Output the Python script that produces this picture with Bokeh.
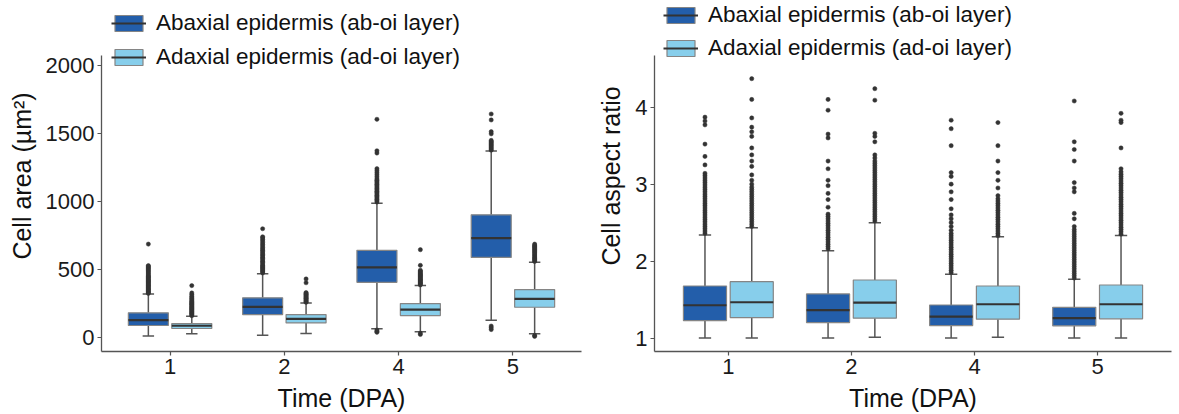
from bokeh.plotting import figure
from bokeh.layouts import row
from bokeh.models import (ColumnDataSource, FactorRange, Range1d, FixedTicker,
                          Legend, LegendItem)
from bokeh.transform import dodge
from bokeh.embed import file_html
from bokeh.resources import INLINE

# ---------------- data ----------------
days = ["1", "2", "4", "5"]
series_labels = ["Abaxial epidermis (ab-oi layer)", "Adaxial epidermis (ad-oi layer)"]

# Cell area (µm²)
area_ab_lo = [10, 17, 64, 127]
area_ab_q1 = [88, 168, 405, 588]
area_ab_med = [127, 225, 515, 730]
area_ab_q3 = [181, 291, 640, 901]
area_ab_hi = [320, 469, 987, 1370]

area_ad_lo = [27, 29, 42, 27]
area_ad_q1 = [66, 107, 161, 222]
area_ad_med = [86, 137, 205, 283]
area_ad_q3 = [102, 168, 249, 352]
area_ad_hi = [156, 254, 381, 552]

area_ab_out = {
    "1": [324, 330, 336, 342, 348, 354, 360, 366, 372, 378, 384, 390, 396, 402, 408, 414,
          420, 426, 432, 438, 444, 450, 458, 466, 474, 482, 490, 498, 506, 514, 522, 528, 686],
    "2": [474, 482, 490, 498, 506, 514, 522, 530, 540, 550, 560, 570, 580, 590, 600, 610,
          620, 630, 640, 650, 660, 672, 684, 696, 708, 720, 732, 740, 799],
    "4": [38, 46, 55, 995, 1005, 1015, 1025, 1035, 1045, 1055, 1065, 1075, 1085, 1095, 1105,
          1115, 1125, 1135, 1145, 1155, 1165, 1180, 1195, 1210, 1225, 1240, 1355, 1372, 1603],
    "5": [58, 72, 84, 1376, 1384, 1392, 1400, 1408, 1416, 1424, 1432, 1440, 1448, 1496,
          1512, 1598, 1642],
}
area_ad_out = {
    "1": [160, 166, 172, 178, 184, 190, 196, 202, 208, 214, 220, 226, 232, 238, 244, 250,
          256, 262, 268, 276, 284, 292, 303, 315, 327, 381],
    "2": [258, 264, 270, 276, 282, 288, 294, 300, 306, 312, 318, 324, 330, 402, 430],
    "4": [22, 32, 386, 392, 398, 404, 410, 416, 422, 428, 434, 440, 446, 452, 458, 464, 470,
          478, 486, 494, 530, 645],
    "5": [8, 16, 558, 566, 574, 582, 590, 598, 606, 614, 622, 630, 638, 646, 654, 662, 670,
          678, 686],
}

# Cell aspect ratio
ar_ab_lo = [1.0, 1.0, 1.0, 1.0]
ar_ab_q1 = [1.228, 1.202, 1.163, 1.16]
ar_ab_med = [1.427, 1.363, 1.28, 1.26]
ar_ab_q3 = [1.677, 1.574, 1.43, 1.40]
ar_ab_hi = [2.338, 2.135, 1.829, 1.764]

ar_ad_lo = [1.0, 1.01, 1.01, 1.0]
ar_ad_q1 = [1.267, 1.259, 1.246, 1.25]
ar_ad_med = [1.466, 1.461, 1.44, 1.44]
ar_ad_q3 = [1.733, 1.755, 1.677, 1.69]
ar_ad_hi = [2.433, 2.497, 2.316, 2.334]

ar_ab_out = {
    "1": [2.36, 2.39, 2.42, 2.45, 2.48, 2.51, 2.54, 2.57, 2.60, 2.63, 2.66, 2.69, 2.72, 2.75,
          2.78, 2.81, 2.84, 2.87, 2.90, 2.93, 2.96, 2.99, 3.02, 3.05, 3.08, 3.11, 3.14, 3.25,
          3.36, 3.52, 3.77, 3.82, 3.87],
    "2": [2.16, 2.19, 2.22, 2.25, 2.28, 2.31, 2.34, 2.37, 2.40, 2.43, 2.46, 2.49, 2.52, 2.55,
          2.58, 2.61, 2.70, 2.80, 2.88, 2.98, 3.05, 3.20, 3.30, 3.60, 3.65, 3.96, 4.10],
    "4": [1.85, 1.88, 1.91, 1.94, 1.97, 2.00, 2.03, 2.06, 2.09, 2.12, 2.15, 2.18, 2.21, 2.24,
          2.27, 2.30, 2.33, 2.36, 2.40, 2.45, 2.50, 2.55, 2.60, 2.68, 2.80, 2.90, 3.00, 3.10,
          3.15, 3.50, 3.72, 3.83],
    "5": [1.78, 1.81, 1.84, 1.87, 1.90, 1.93, 1.96, 1.99, 2.02, 2.05, 2.08, 2.11, 2.14, 2.17,
          2.20, 2.23, 2.26, 2.29, 2.32, 2.35, 2.38, 2.41, 2.45, 2.55, 2.62, 2.90, 2.95, 3.02,
          3.30, 3.45, 3.55, 4.08],
}
ar_ad_out = {
    "1": [2.45, 2.48, 2.51, 2.54, 2.57, 2.60, 2.63, 2.66, 2.69, 2.72, 2.75, 2.78, 2.81, 2.84,
          2.87, 2.90, 2.93, 2.96, 3.00, 3.05, 3.12, 3.23, 3.30, 3.38, 3.47, 3.62, 3.68, 3.74,
          3.86, 4.10, 4.37],
    "2": [2.52, 2.55, 2.58, 2.61, 2.64, 2.67, 2.70, 2.73, 2.76, 2.79, 2.82, 2.85, 2.88, 2.91,
          2.94, 2.97, 3.00, 3.03, 3.06, 3.09, 3.12, 3.15, 3.18, 3.21, 3.24, 3.27, 3.30, 3.34,
          3.38, 3.55, 3.62, 3.66, 4.09, 4.24],
    "4": [2.33, 2.36, 2.39, 2.42, 2.45, 2.48, 2.51, 2.54, 2.57, 2.60, 2.63, 2.66, 2.69, 2.72,
          2.75, 2.78, 2.81, 2.85, 2.95, 3.05, 3.15, 3.30, 3.50, 3.80],
    "5": [2.35, 2.38, 2.41, 2.44, 2.47, 2.50, 2.53, 2.56, 2.59, 2.62, 2.65, 2.68, 2.71, 2.74,
          2.77, 2.80, 2.83, 2.86, 2.89, 2.92, 2.95, 2.98, 3.01, 3.04, 3.07, 3.10, 3.13, 3.16,
          3.20, 3.47, 3.80, 3.83, 3.92],
}

# ---------------- style ----------------
FONT = "Liberation Sans"
DARK = "#235EAA"
LIGHT = "#87CEEB"
BOX_LINE = "#858585"
MED = "#333333"
WHISK = "#555555"
PT = "#333333"
BOX_W = 0.35
OFF = 0.19
CAP = 0.05
HEIGHT = 414
BORDER_BOTTOM = 62


def panel(width, border_left, border_right, y_lo, y_hi_axis, px_per_unit, y_ticks, ylabel,
          ab, ad, ab_out, ad_out, leg_x, leg_y, leg_spacing):
    frame_h = HEIGHT - BORDER_BOTTOM
    y_top = y_lo + frame_h / px_per_unit  # frame extends to figure top (room for legend)
    p = figure(x_range=FactorRange(*days, range_padding=0.05), y_range=Range1d(y_lo, y_top),
               width=width, height=HEIGHT, output_backend="svg", toolbar_location=None,
               min_border_left=border_left, min_border_right=border_right,
               min_border_top=0, min_border_bottom=BORDER_BOTTOM)
    p.outline_line_color = None
    p.xgrid.visible = False
    p.ygrid.visible = False
    p.background_fill_color = None
    p.border_fill_color = None
    p.yaxis.ticker = FixedTicker(ticks=y_ticks)
    p.yaxis.bounds = (y_lo, y_hi_axis)
    for ax in (p.xaxis[0], p.yaxis[0]):
        ax.axis_line_color = "#555555"
        ax.axis_line_width = 1.3
        ax.major_tick_line_color = "#555555"
        ax.major_tick_line_width = 1.2
        ax.major_tick_out = 4
        ax.major_tick_in = 0
        ax.minor_tick_line_color = None
        ax.major_label_text_font = FONT
        ax.major_label_text_font_size = "22px"
        ax.major_label_text_color = "#1a1a1a"
        ax.major_label_standoff = 3
        ax.axis_label_text_font = FONT
        ax.axis_label_text_font_size = "25px"
        ax.axis_label_text_font_style = "normal"
        ax.axis_label_text_color = "#111111"
        ax.axis_label_standoff = 7
    p.xaxis.axis_label = "Time (DPA)"
    p.yaxis.axis_label = ylabel

    legend_items = []
    for (lo, q1, med, q3, hi), outs, off, color, label in (
            (ab, ab_out, -OFF, DARK, series_labels[0]),
            (ad, ad_out, OFF, LIGHT, series_labels[1])):
        src = ColumnDataSource(dict(day=days, lo=lo, q1=q1, med=med, q3=q3, hi=hi))
        xc = dodge("day", off, range=p.x_range)
        # whiskers
        p.segment(x0=xc, x1=xc, y0="q3", y1="hi", source=src, line_color=WHISK, line_width=1.5)
        p.segment(x0=xc, x1=xc, y0="lo", y1="q1", source=src, line_color=WHISK, line_width=1.5)
        # caps
        p.segment(x0=dodge("day", off - CAP, range=p.x_range),
                  x1=dodge("day", off + CAP, range=p.x_range),
                  y0="hi", y1="hi", source=src, line_color=WHISK, line_width=1.5)
        p.segment(x0=dodge("day", off - CAP, range=p.x_range),
                  x1=dodge("day", off + CAP, range=p.x_range),
                  y0="lo", y1="lo", source=src, line_color=WHISK, line_width=1.5)
        # box
        box = p.vbar(x=xc, width=BOX_W, bottom="q1", top="q3", source=src,
                     fill_color=color, line_color=BOX_LINE, line_width=1.2)
        # median
        medr = p.segment(x0=dodge("day", off - BOX_W / 2, range=p.x_range),
                         x1=dodge("day", off + BOX_W / 2, range=p.x_range),
                         y0="med", y1="med", source=src, line_color=MED, line_width=2.2)
        # outliers
        od, ov = [], []
        for d in days:
            for v in outs[d]:
                od.append(d)
                ov.append(v)
        osrc = ColumnDataSource(dict(day=od, y=ov))
        p.scatter(x=xc, y="y", source=osrc, size=4.2, fill_color=PT, line_color=PT,
                  line_width=0.5)
        legend_items.append(LegendItem(label=label, renderers=[box, medr]))

    leg = Legend(items=legend_items, location=(leg_x, leg_y), orientation="vertical",
                 glyph_width=35, glyph_height=20, label_height=20, spacing=leg_spacing,
                 label_standoff=10, padding=0, margin=0,
                 border_line_color=None, background_fill_alpha=0,
                 label_text_font=FONT, label_text_font_size="22.5px",
                 label_text_color="#111111")
    p.add_layout(leg, "center")
    return p


p1 = panel(590, 101, 9, -103, 2073, 0.1365, [0, 500, 1000, 1500, 2000], "Cell area (µm²)",
           (area_ab_lo, area_ab_q1, area_ab_med, area_ab_q3, area_ab_hi),
           (area_ad_lo, area_ad_q1, area_ad_med, area_ad_q3, area_ad_hi),
           area_ab_out, area_ad_out, 10, 281, 8)
p2 = panel(589, 64, 8, 0.826, 4.67, 77.2, [1, 2, 3, 4], "Cell aspect ratio",
           (ar_ab_lo, ar_ab_q1, ar_ab_med, ar_ab_q3, ar_ab_hi),
           (ar_ad_lo, ar_ad_q1, ar_ad_med, ar_ad_q3, ar_ad_hi),
           ar_ab_out, ar_ad_out, 9, 290, 7)

layout = row(p1, p2)
open("out.html", "w").write(file_html(layout, INLINE))
